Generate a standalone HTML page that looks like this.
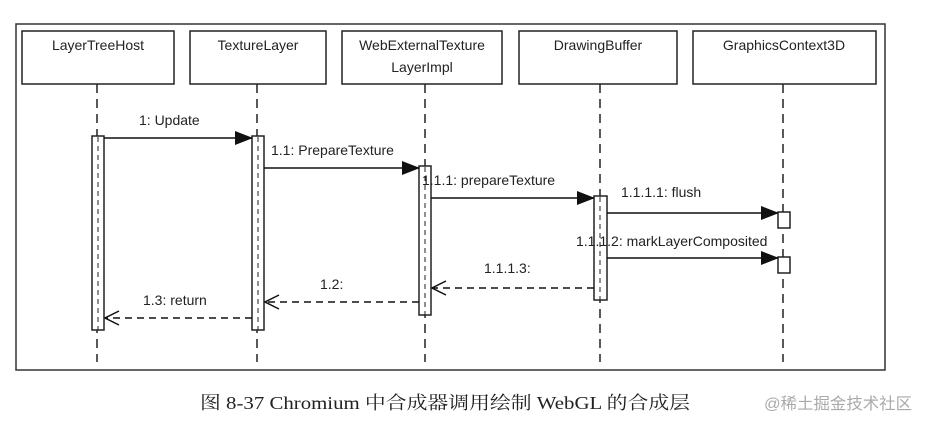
<!DOCTYPE html>
<html><head><meta charset="utf-8"><style>
body{margin:0;background:#fff;width:927px;height:428px;overflow:hidden}
</style></head><body>
<svg width="927" height="428" xmlns="http://www.w3.org/2000/svg" font-family="Liberation Sans, sans-serif" font-size="14" fill="#222">
<defs>
<marker id="fa" markerWidth="18" markerHeight="14" refX="17" refY="7" orient="auto" markerUnits="userSpaceOnUse"><path d="M0,0 L18,7 L0,14 z" fill="#111"/></marker>
<marker id="oa" markerWidth="16" markerHeight="16" refX="15" refY="8" orient="auto" markerUnits="userSpaceOnUse"><path d="M1,1 L15,8 L1,15" fill="none" stroke="#111" stroke-width="1.5"/></marker>
</defs>
<rect x="16" y="24" width="869" height="346" fill="none" stroke="#333" stroke-width="1.5"/>
<g fill="#fff" stroke="#222" stroke-width="1.5">
<rect x="22" y="31" width="152" height="53"/>
<rect x="190" y="31" width="136" height="53"/>
<rect x="342" y="31" width="160" height="53"/>
<rect x="519" y="31" width="158" height="53"/>
<rect x="693" y="31" width="183" height="53"/>
</g>
<g text-anchor="middle" fill="#222">
<text x="98" y="50">LayerTreeHost</text>
<text x="258" y="50">TextureLayer</text>
<text x="422" y="50">WebExternalTexture</text>
<text x="422" y="72">LayerImpl</text>
<text x="598" y="50">DrawingBuffer</text>
<text x="784" y="50">GraphicsContext3D</text>
</g>
<g stroke="#222" stroke-width="1.5" stroke-dasharray="9,6">
<line x1="97" y1="84" x2="97" y2="362"/>
<line x1="257" y1="84" x2="257" y2="362"/>
<line x1="425" y1="84" x2="425" y2="362"/>
<line x1="600" y1="84" x2="600" y2="362"/>
<line x1="783" y1="84" x2="783" y2="362"/>
</g>
<g fill="#fff" stroke="#222" stroke-width="1.5">
<rect x="92" y="136" width="12" height="194"/>
<rect x="252" y="136" width="12" height="194"/>
<rect x="419" y="166" width="12" height="149"/>
<rect x="594" y="196" width="13" height="104"/>
<rect x="778" y="212" width="12" height="16"/>
<rect x="778" y="257" width="12" height="16"/>
</g>
<g stroke="#222" stroke-width="1" stroke-dasharray="5,4">
<line x1="98" y1="137" x2="98" y2="330"/>
<line x1="258" y1="137" x2="258" y2="330"/>
<line x1="425" y1="167" x2="425" y2="315"/>
<line x1="600" y1="197" x2="600" y2="300"/>
</g>
<g stroke="#111" stroke-width="1.5">
<line x1="104" y1="138" x2="252" y2="138" marker-end="url(#fa)"/>
<line x1="264" y1="168" x2="419" y2="168" marker-end="url(#fa)"/>
<line x1="431" y1="198" x2="594" y2="198" marker-end="url(#fa)"/>
<line x1="607" y1="213" x2="778" y2="213" marker-end="url(#fa)"/>
<line x1="607" y1="258" x2="778" y2="258" marker-end="url(#fa)"/>
</g>
<g stroke="#111" stroke-width="1.5" stroke-dasharray="7,5">
<line x1="594" y1="288" x2="432" y2="288" marker-end="url(#oa)"/>
<line x1="419" y1="302" x2="265" y2="302" marker-end="url(#oa)"/>
<line x1="252" y1="318" x2="105" y2="318" marker-end="url(#oa)"/>
</g>
<g fill="#222">
<text x="139" y="125">1: Update</text>
<text x="271" y="155">1.1: PrepareTexture</text>
<text x="422" y="185">1.1.1: prepareTexture</text>
<text x="621" y="197">1.1.1.1: flush</text>
<text x="576" y="246">1.1.1.2: markLayerComposited</text>
<text x="484" y="273">1.1.1.3:</text>
<text x="320" y="289">1.2:</text>
<text x="143" y="305">1.3: return</text>
</g>
<text x="200" y="409" font-family="Liberation Serif, Noto Serif CJK SC, serif" font-size="18" fill="#222" textLength="490" lengthAdjust="spacingAndGlyphs">图 8-37   Chromium 中合成器调用绘制 WebGL 的合成层</text>
<text x="764" y="409" font-family="Liberation Sans, Noto Sans CJK SC, sans-serif" font-size="16" fill="#aaa" textLength="148" lengthAdjust="spacingAndGlyphs">@稀土掘金技术社区</text>
</svg>
</body></html>
